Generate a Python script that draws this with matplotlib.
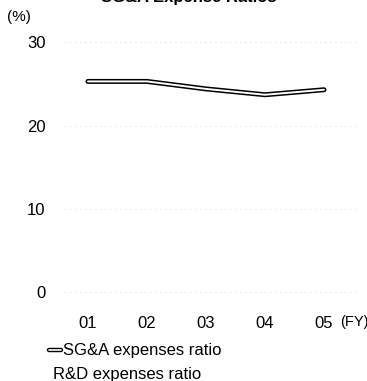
import matplotlib
matplotlib.use("Agg")
import matplotlib.pyplot as plt
from matplotlib.lines import Line2D

plt.rcParams['font.family'] = ['Liberation Sans', 'DejaVu Sans']

# data
years = ["01", "02", "03", "04", "05"]
sga_ratio = [25.3, 25.3, 24.4, 23.7, 24.3]
y_ticks = [0, 10, 20, 30]

fig = plt.figure(figsize=(3.67, 3.81), dpi=100)
ax = fig.add_axes([0.177, 0.2114, 0.804, 0.6995])

x = list(range(len(years)))
# double line: black outline with white core
ax.plot(x, sga_ratio, color='black', linewidth=3.6, solid_capstyle='round', solid_joinstyle='round', zorder=3)
ax.plot(x, sga_ratio, color='white', linewidth=1.4, solid_capstyle='round', solid_joinstyle='round', zorder=4)

ax.set_xlim(-0.39, 4.61)
ax.set_ylim(-1, 31)
ax.set_xticks(x)
ax.set_xticklabels(years)
ax.set_yticks(y_ticks)
ax.tick_params(axis='both', length=0, labelsize=12)
ax.tick_params(axis='y', pad=14)
ax.tick_params(axis='x', pad=11)
for s in ax.spines.values():
    s.set_visible(False)
ax.grid(axis='y', color='#c0c0c0', linestyle=(0, (1, 5)), linewidth=0.6)
ax.set_axisbelow(True)

# unit labels
fig.text(7 / 367, 1 - 17 / 381, "(%)", fontsize=11, va='center', ha='left')
fig.text(340 / 367, 1 - 322 / 381, "(FY)", fontsize=10.5, va='center', ha='left')

# partially cut-off title at the very top
fig.text(189 / 367, 1 - 2 / 381, "SG&A Expense Ratios", fontsize=12, fontweight='bold',
         ha='center', va='baseline')

# legend drawn by hand
ly = 1 - 350 / 381
fig.add_artist(Line2D([49 / 367, 61 / 367], [ly, ly], color='black', linewidth=3.2,
                      solid_capstyle='round', transform=fig.transFigure))
fig.add_artist(Line2D([49 / 367, 61 / 367], [ly, ly], color='white', linewidth=1.2,
                      solid_capstyle='round', transform=fig.transFigure))
fig.text(63 / 367, ly, "SG&A expenses ratio", fontsize=12, va='center', ha='left')
fig.text(53 / 367, 1 - 375 / 381, "R&D expenses ratio", fontsize=12, va='center', ha='left')

fig.savefig("out.png", dpi=100)
